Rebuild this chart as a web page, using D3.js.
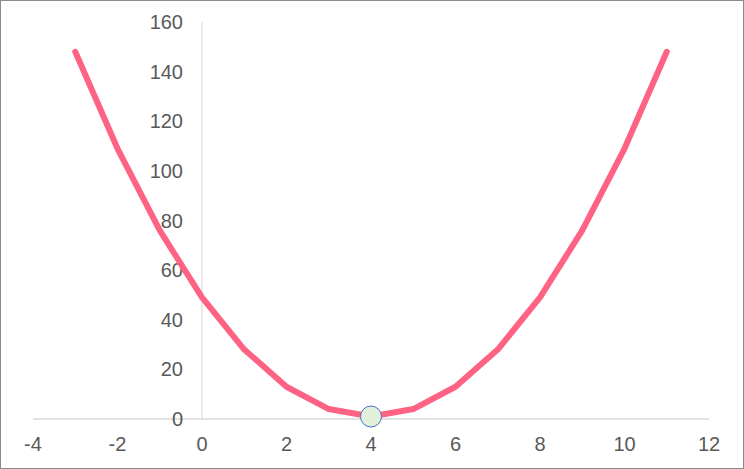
<!DOCTYPE html>
<html><head><meta charset="utf-8">
<script src="https://cdn.jsdelivr.net/npm/d3@7"></script>
<style>
html,body{margin:0;padding:0;background:#fff;}
svg{display:block;}
</style></head>
<body>
<script>
const xValues = [-3,-2,-1,0,1,2,3,4,5,6,7,8,9,10,11];
const yValues = [148,109,76,49,28,13,4,1,4,13,28,49,76,109,148];
const xTicks = [-4,-2,0,2,4,6,8,10,12];
const yTicks = [0,20,40,60,80,100,120,140,160];
const highlight = {x: 4, y: 1};

const W = 744, H = 469;
const svg = d3.select("body").append("svg").attr("width", W).attr("height", H);
svg.append("rect").attr("x",0.5).attr("y",0.5).attr("width",W-1).attr("height",H-1)
  .attr("fill","#fff").attr("stroke","#8c8c8c").attr("stroke-width",1);

const x = d3.scaleLinear().domain([-4,12]).range([33,709]);
const y = d3.scaleLinear().domain([0,160]).range([419,22]);

const font = "'Liberation Sans', Arial, sans-serif";

svg.append("line").attr("x1",x(0)).attr("x2",x(0)).attr("y1",y(160)).attr("y2",y(0))
  .attr("stroke","#d9d9d9").attr("stroke-width",1);
svg.append("line").attr("x1",x(-4)).attr("x2",x(12)).attr("y1",y(0)).attr("y2",y(0))
  .attr("stroke","#d9d9d9").attr("stroke-width",1.5);

svg.append("g").selectAll("text").data(yTicks).join("text")
  .attr("x", 183).attr("y", d => y(d)).attr("dy","0.35em")
  .attr("text-anchor","end").attr("font-family",font).attr("font-size",20)
  .attr("fill","#595959").text(d => d);

svg.append("g").selectAll("text").data(xTicks).join("text")
  .attr("x", d => x(d)).attr("y", 444).attr("dy","0.35em")
  .attr("text-anchor","middle").attr("font-family",font).attr("font-size",20)
  .attr("fill","#595959").text(d => d);

const pts = xValues.map((v,i)=>[v, yValues[i]]);
const line = d3.line().x(d=>x(d[0])).y(d=>y(d[1]));
svg.append("path").datum(pts).attr("d", line).attr("fill","none")
  .attr("stroke","#FF6384").attr("stroke-width",6)
  .attr("stroke-linecap","round").attr("stroke-linejoin","round");

svg.append("circle").attr("cx",x(highlight.x)).attr("cy",y(highlight.y)).attr("r",10.5)
  .attr("fill","#E2EFDA").attr("stroke","#4472C4").attr("stroke-width",1);
</script>
</body></html>
